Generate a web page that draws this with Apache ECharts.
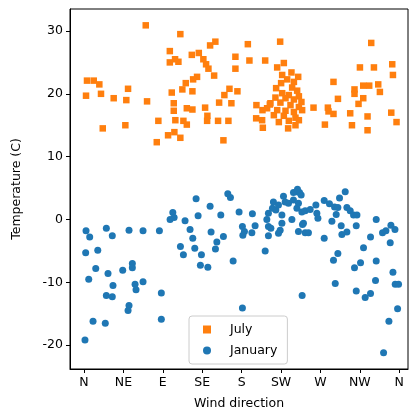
<!DOCTYPE html>
<html>
<head>
<meta charset="utf-8">
<script src="https://cdn.jsdelivr.net/npm/echarts@6/dist/echarts.min.js"></script>
<style>
  html, body { margin: 0; padding: 0; background: #ffffff; }
  #chart { width: 410px; height: 416px; }
</style>
</head>
<body>
<div id="chart"></div>
<script>
  // wind direction (degrees) and temperature (C)
  const julyDir = [70.5, 110, 98, 104, 98, 107.8, 3.4, 11.1, 17.5, 50.3, 2.3, 19.4, 33.9, 48.3, 72,
    116.2, 112.3, 100.2, 102.5, 102.5, 117.4, 84.9, 104.3, 113.5, 117.4, 21.4, 47.2, 103.2, 96, 110, 83.1,
    150, 144, 187.1, 224, 123.1, 131.1, 136.3, 139.4, 142.1, 148.6, 172.9, 172.9, 188.9, 206.9,
    129.1, 124.6, 123.8, 166.1, 160.3, 175.2, 154.3, 168.3, 123.8, 138.3, 140.9, 140.6, 153.1, 164.9, 159.2,
    196.9, 203.8, 196.6, 203.4, 204.2, 212.2,
    228.2, 220.6, 236.9, 244.6, 226.3, 232, 225.1, 239.7, 219.4, 237.7, 243.4, 226.3, 233.9, 245.4,
    218.6, 230.1, 239.7, 248.3, 212.9, 224.3, 235.8, 245.4, 209.1, 220.6, 230.1, 239.7, 249.1,
    216.8, 228.2, 241.5, 222.5, 233.9, 245.4, 233.1, 241.5,
    328, 315.1, 331.1, 352, 352.8, 284.9, 308.9, 308.9, 318.9, 325.7, 336, 337.9, 318.9, 313.5, 290,
    262.1, 278.5, 279.2, 284.9, 304, 323.8, 350.9, 356.9, 275.1, 306, 323.8];
  const julyTemp = [30.9, 29.5, 26.8, 25.5, 25.0, 25.1, 22.1, 22.1, 21.5, 20.8, 19.7, 20.0, 19.3, 19.0, 18.8,
    21.7, 20.7, 20.2, 18.5, 17.3, 17.7, 15.7, 15.8, 15.7, 15.1, 14.5, 15.0, 13.9, 13.4, 13.0, 12.3,
    28.3, 27.7, 27.9, 28.3, 26.2, 26.5, 25.5, 24.7, 24.0, 22.9, 25.9, 24.0, 25.3, 25.3,
    22.7, 22.3, 20.4, 20.8, 19.8, 20.4, 18.6, 18.5, 17.5, 17.8, 16.5, 15.7, 15.7, 15.7, 12.6,
    18.2, 17.4, 16.1, 15.8, 14.6, 18.3,
    24.9, 24.2, 23.4, 22.7, 23.0, 22.3, 21.7, 21.9, 20.9, 21.0, 20.5, 20.1, 19.8, 19.6,
    19.4, 19.3, 19.1, 18.7, 18.5, 18.6, 18.2, 17.9, 17.7, 17.4, 17.3, 17.1, 17.4,
    16.6, 16.5, 16.2, 15.5, 15.7, 15.8, 14.5, 15.0,
    28.1, 24.2, 24.2, 24.7, 23.0, 21.9, 20.7, 20.0, 21.3, 21.3, 21.5, 20.3, 19.3, 18.4, 19.2,
    17.8, 17.8, 17.2, 16.8, 16.9, 16.4, 17.0, 15.5, 15.1, 15.0, 14.2];

  const janDir = [101.4, 98.3, 102.9, 115.4, 2.3, 6.5, 25.5, 32.3, 51.4, 67.4, 86.1, 1.9, 15.7, 110.1, 113.5,
    13.4, 27.4, 44.2, 55.2, 55.2, 5.4, 33.1, 58.3, 59.4, 67.4, 25.5, 32.3, 88.3, 51.4, 50.3, 10.3, 24.3, 88.3, 1.1, 121.1,
    128, 164.2, 167.2, 144, 130.3, 156.2, 177.1, 192.3, 124.2, 145.1, 159.2, 151.7, 150.1, 126.5, 134.1, 132.9, 141.4,
    170.3, 180.9, 183.2, 181.4, 191.7, 195.4, 180.9,
    206.9, 208.8, 210.6, 215.2, 216.3, 219.1, 222.1, 226, 227.8, 229.7, 233.5, 237.4, 239.2, 243.1, 243.1,
    226, 224, 210.6, 213.4, 210.6, 244.9, 239.2, 246.1, 244.9, 248.8, 252.6, 222.1, 250.6,
    243.8, 248, 258.3, 264.8, 265.9, 267.1, 274.3, 280.3, 286.1, 291.8, 298.3, 289.9, 288, 283.1, 293.7,
    300.2, 304, 307.8, 311.7, 310.9, 294.5, 300.2, 249.5, 252.6, 256.3, 274.3,
    333.7, 327.2, 319.2, 340.9, 344.8, 350.5, 355.1, 349.7, 289.9, 284.9, 308.9, 315.8, 333.7, 352.8,
    286.9, 332.9, 355.4, 359.2, 310.9, 321.1, 327.2, 249.1, 358.1, 348.2, 342.1];
  const janTemp = [1.1, 0.0, 0.3, -0.2, -1.8, -2.8, -1.4, -2.6, -1.7, -1.8, -1.8, -5.3, -4.9, -4.3, -5.6,
    -7.8, -8.6, -8.1, -7.0, -7.7, -9.5, -10.5, -10.3, -11.2, -9.9, -12.1, -12.3, -11.7, -13.7, -14.5, -16.2, -16.5, -15.9, -19.2, -1.6,
    3.3, 4.1, 3.5, 2.1, 0.6, 0.7, 1.2, 0.9, -3.0, -2.0, -2.7, -3.6, -4.7, -4.6, -5.6, -7.3, -7.6,
    -6.6, -1.1, -1.9, -2.5, -2.1, -1.0, -14.1,
    -5.0, 0.0, 1.0, 1.8, 2.8, 1.5, 2.3, 0.7, 3.7, 2.8, 2.6, 0.0, 3.1, 4.4, 1.8,
    -0.6, -1.7, -1.1, -1.4, -2.6, -1.9, 4.3, 4.3, 2.6, 1.2, 1.4, -2.2, -0.6,
    4.8, 3.9, 1.6, 2.3, 1.0, 0.2, 3.0, 2.5, 2.0, 3.4, 4.4, 1.9, 0.8, -0.3, -1.0,
    1.9, 1.4, 0.7, 0.7, -1.0, -2.4, -2.0, -0.8, -2.1, -2.1, -3.0,
    0.0, -2.8, -4.5, -2.1, -1.8, -0.9, -1.6, -3.7, -5.4, -6.5, -7.7, -6.9, -6.6, -8.4,
    -10.2, -9.7, -10.3, -10.3, -11.4, -12.4, -11.8, -12.1, -14.2, -16.2, -21.2];

  const dirTicks = [0, 45, 90, 135, 180, 225, 270, 315, 360];
  const dirLabels = ['N', 'NE', 'E', 'SE', 'S', 'SW', 'W', 'NW', 'N'];
  const tempTicks = [-20, -10, 0, 10, 20, 30];

  const pair = (xs, ys) => xs.map((x, i) => [x, ys[i]]);
  const font = 'DejaVu Sans';

  const myChart = echarts.init(document.getElementById('chart'), null, { renderer: 'canvas' });

  let option = {
    animation: false,
    backgroundColor: '#ffffff',
    grid: {
      left: 70,
      right: 2,
      top: 9,
      bottom: 47,
      show: true,
      borderColor: '#000000',
      borderWidth: 1
    },
    legend: {
      orient: 'vertical',
      left: 189,
      top: 316,
      padding: [7, 10, 7, 14],
      itemGap: 8,
      itemWidth: 8,
      itemHeight: 8,
      backgroundColor: 'rgba(255,255,255,0.8)',
      borderColor: '#cccccc',
      borderWidth: 1,
      borderRadius: 3,
      textStyle: { fontFamily: font, fontSize: 12.5, color: '#000000', padding: [0, 0, 0, 14] },
      data: [{ name: 'July', icon: 'rect' }, { name: 'January', icon: 'circle' }]
    },
    xAxis: {
      type: 'value',
      min: -16,
      max: 370,
      name: 'Wind direction',
      nameLocation: 'middle',
      nameGap: 28,
      nameTextStyle: { fontFamily: font, fontSize: 12.5, color: '#000000' },
      splitLine: { show: false },
      axisLine: { show: true, onZero: false, lineStyle: { color: '#000000', width: 1 } },
      axisTick: { show: true, length: 4, customValues: dirTicks, lineStyle: { color: '#000000' } },
      axisLabel: {
        customValues: dirTicks,
        fontFamily: font,
        fontSize: 12.5,
        color: '#000000',
        margin: 7,
        formatter: (v) => dirLabels[dirTicks.indexOf(v)]
      }
    },
    yAxis: {
      type: 'value',
      min: -23.8,
      max: 33.5,
      name: 'Temperature (C)',
      nameLocation: 'middle',
      nameRotate: 90,
      nameGap: 47,
      nameTextStyle: { fontFamily: font, fontSize: 12.5, color: '#000000' },
      splitLine: { show: false },
      axisLine: { show: true, onZero: false, lineStyle: { color: '#000000', width: 1 } },
      axisTick: { show: true, length: 4, customValues: tempTicks, lineStyle: { color: '#000000' } },
      axisLabel: {
        customValues: tempTicks,
        fontFamily: font,
        fontSize: 12.5,
        color: '#000000',
        margin: 7
      }
    },
    series: [
      {
        name: 'July',
        type: 'scatter',
        symbol: 'rect',
        symbolSize: 6.5,
        itemStyle: { color: '#ff7f0e', opacity: 1 },
        data: pair(julyDir, julyTemp)
      },
      {
        name: 'January',
        type: 'scatter',
        symbol: 'circle',
        symbolSize: 7,
        itemStyle: { color: '#1f77b4', opacity: 1 },
        data: pair(janDir, janTemp)
      }
    ]
  };
  myChart.setOption(option);
</script>
</body>
</html>
